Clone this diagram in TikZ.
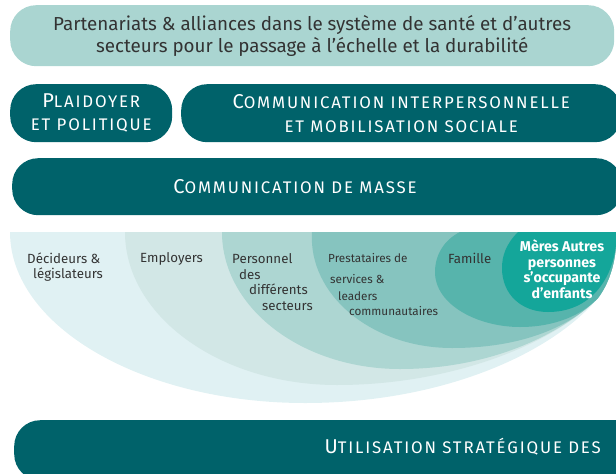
\documentclass[tikz,border=0pt]{standalone}
\usepackage{fontspec}
\setmainfont{Fira Sans}
\newfontfamily\hfont[LetterSpace=11]{Fira Sans}
\definecolor{light}{HTML}{AAD5D1}
\definecolor{dark}{HTML}{00626A}
\definecolor{cA}{HTML}{E0F1F3}
\definecolor{cB}{HTML}{D2E7E6}
\definecolor{cC}{HTML}{ADD6D2}
\definecolor{cD}{HTML}{86C4BF}
\definecolor{cE}{HTML}{57B4AC}
\definecolor{cF}{HTML}{14A69A}
\definecolor{txt}{HTML}{333333}
\newcommand{\bigsc}[1]{{\fontsize{20}{23}\selectfont #1}}
\newcommand{\smsc}[1]{{\fontsize{16.8}{23}\selectfont #1}}
\tikzset{
  pill/.style={rectangle, rounded corners=26pt, inner sep=0pt, anchor=north west},
  lightpill/.style={pill, fill=light, text=txt, align=center, font=\fontsize{18.8}{22}\selectfont},
  darkpill/.style={pill, fill=dark, text=white, align=center, font=\hfont\fontsize{16.8}{23}\selectfont},
  darktext/.style={text=white, inner sep=0pt, font=\hfont\fontsize{16.8}{23}\selectfont},
  lab/.style={text=txt, inner sep=0pt, anchor=base west, align=left, font=\fontsize{13.3}{15.6}\selectfont},
  tail/.style={insert path={.. controls (608,285) and (615,265) .. (616,245) -- (616,232) -- cycle}},
}
\begin{document}
\begin{tikzpicture}[x=1pt,y=-1pt]
\useasboundingbox (0,0) rectangle (616,474);
% top boxes
\node[lightpill, minimum width=604pt, minimum height=61pt] (part) at (10,5)
  {Partenariats \& alliances dans le système de santé et d’autres\\secteurs pour le passage à l’échelle et la durabilité};
\node[darkpill, minimum width=162pt, minimum height=58pt] (plaid) at (10,84)
  {\bigsc{P}\smsc{LAIDOYER}\\\smsc{ET POLITIQUE}};
\node[darkpill, minimum width=440pt, minimum height=58pt] (ipc) at (181,84)
  {\bigsc{C}\smsc{OMMUNICATION INTERPERSONNELLE}\\[1pt]\smsc{ET MOBILISATION SOCIALE}};
\node[pill, fill=dark, minimum width=610pt, minimum height=57pt] (masse) at (12,158) {};
\node[darktext] (massetxt) at (295,187) {\bigsc{C}\smsc{OMMUNICATION DE MASSE}};
% nested audience shapes
\fill[cA] (10,232) .. controls (10,326) and (142,403) .. (305,403)
  .. controls (440,403) and (550,355) .. (598,298) [tail];
\fill[cB] (125,232) .. controls (125,316) and (220,385) .. (337,385)
  .. controls (450,385) and (552,345) .. (598,298) [tail];
\fill[cC] (222,232) .. controls (222,308) and (302,369) .. (400,369)
  .. controls (490,369) and (560,335) .. (598,298) [tail];
\fill[cD] (312,232) .. controls (308,295) and (372,348) .. (452,348)
  .. controls (525,348) and (572,325) .. (598,298) [tail];
\fill[cE] (460,232) .. controls (444,240) and (435,255) .. (435,272)
  .. controls (435,305) and (478,327) .. (520,327)
  .. controls (555,327) and (582,315) .. (598,298) [tail];
\fill[cF] (518,232) .. controls (506,244) and (502,256) .. (502,268)
  .. controls (502,295) and (522,312) .. (548,312)
  .. controls (590,312) and (612,280) .. (616,245) -- (616,232) -- cycle;
% labels (base anchor = baseline of last line)
\node[lab] (dec) at (27,278.5) {Décideurs \&\\[-1pt]\hspace*{6pt}législateurs};
\node[lab] (emp) at (140,262) {Employers};
\node[lab] (pers) at (232,310.5) {Personnel\\\hspace*{7pt}des\\\hspace*{17pt}différents\\\hspace*{30pt}secteurs};
\node[lab, font=\fontsize{11.7}{15}\selectfont] (prest) at (328,315)
  {Prestataires de\\[6pt]\hspace*{2pt}services \&\\[2pt]\hspace*{10pt}leaders\\\hspace*{21pt}communautaires};
\node[lab] (fam) at (448,263) {Famille};
\node[text=white, inner sep=0pt, align=center, anchor=base, font=\bfseries\fontsize{14.2}{15.7}\selectfont] (meres) at (562,298.5)
  {Mères Autres\\personnes\\s’occupante\\d’enfants};
% bottom box
\node[pill, fill=dark, minimum width=640pt, minimum height=60pt] (strat) at (14,420) {};
\node[darktext, anchor=base east] (strattxt) at (601,453) {\bigsc{U}\smsc{TILISATION STRATÉGIQUE DES}};
\end{tikzpicture}
\end{document}
